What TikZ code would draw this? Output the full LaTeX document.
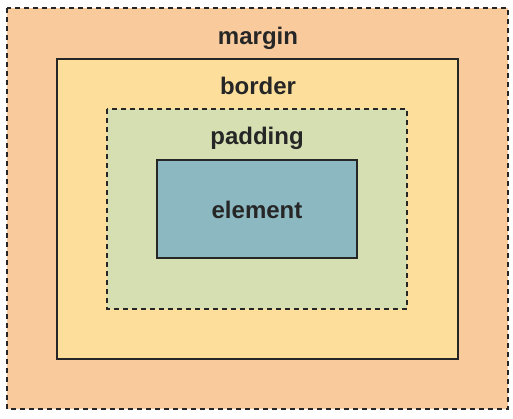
\documentclass[tikz,border=0pt]{standalone}
\usepackage{fontspec}
\setmainfont{Liberation Sans}
\usetikzlibrary{positioning}

\definecolor{marginfill}{HTML}{F9CB9C}
\definecolor{borderfill}{HTML}{FDDF9B}
\definecolor{paddingfill}{HTML}{D6DFB1}
\definecolor{elementfill}{HTML}{8CB8C1}
\definecolor{textgray}{HTML}{262626}

\tikzset{
	boxlabel/.style = {anchor = base, text = textgray, font = \fontsize{24}{28}\selectfont\bfseries, inner sep = 0pt},
	dashedbox/.style = {line width = 2.5pt, draw = textgray, dash pattern = on 5pt off 4pt},
	solidbox/.style = {line width = 2.5pt, draw = textgray}
}

\begin{document}
\begin{tikzpicture}[x = 1pt, y = -1pt]

	\useasboundingbox (0, 0) rectangle (513, 418);
	
	% the four nested boxes
	\filldraw[dashedbox, fill = marginfill] (7, 8) rectangle (508, 409);
	\filldraw[solidbox, fill = borderfill] (57, 59) rectangle (458, 359);
	\filldraw[dashedbox, fill = paddingfill] (107, 109) rectangle (407, 309);
	\filldraw[solidbox, fill = elementfill] (157, 160) rectangle (357, 258);
	
	% labels
	\node[boxlabel] (margin) at (258, 44) {margin};
	\node[boxlabel] (border) at (258, 94) {border};
	\node[boxlabel] (padding) at (257, 144) {padding};
	\node[boxlabel] (element) at (257, 218) {element};
	
\end{tikzpicture}
\end{document}
